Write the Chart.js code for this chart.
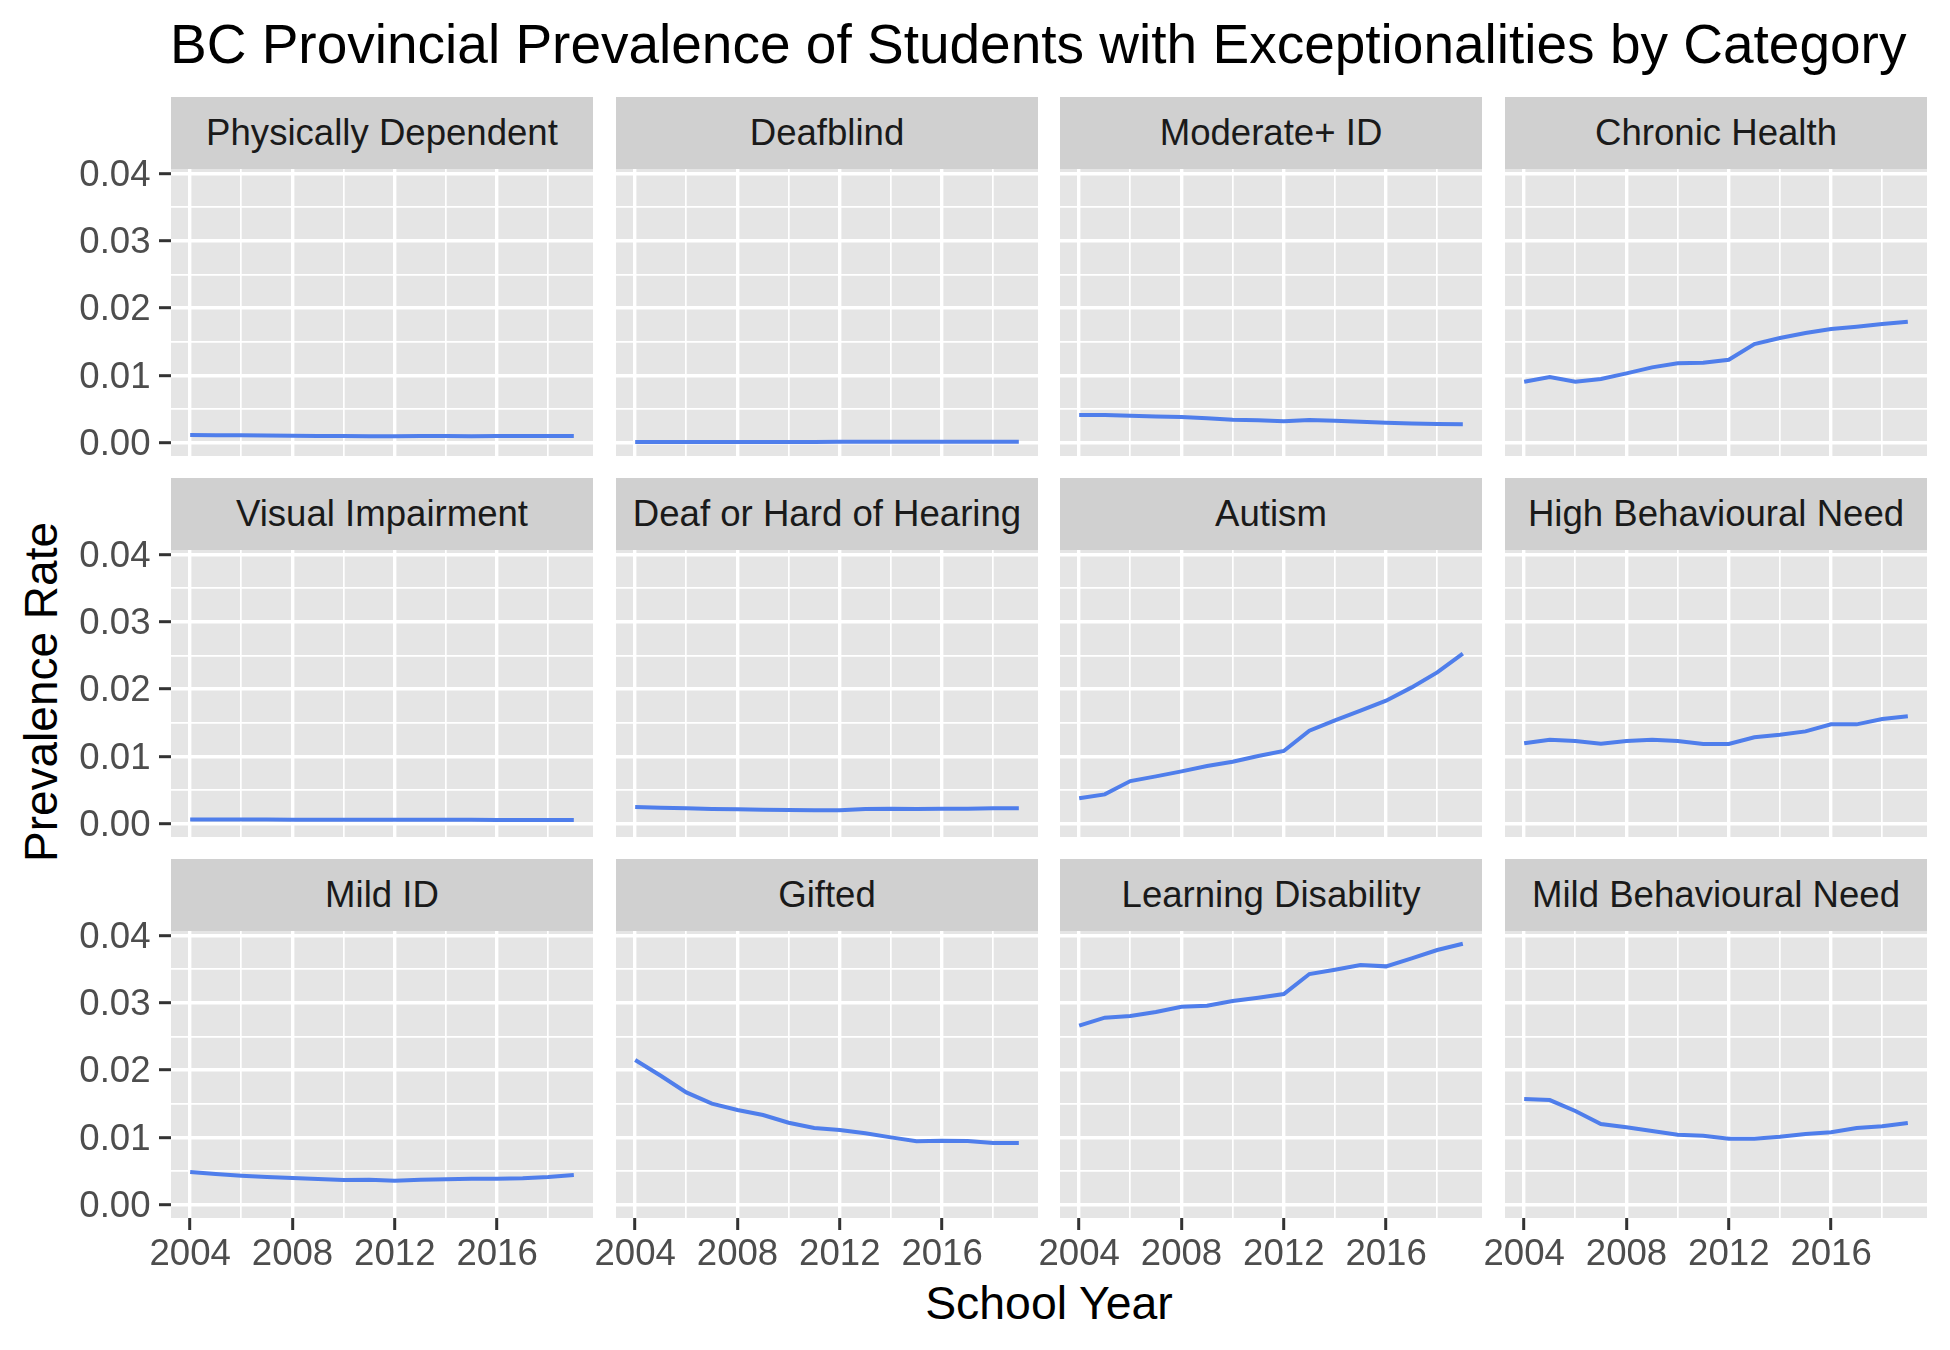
<!DOCTYPE html>
<html>
<head>
<meta charset="utf-8">
<title>BC Provincial Prevalence</title>
<script src="https://cdn.jsdelivr.net/npm/chart.js@4"></script>
<style>
  html, body { margin: 0; padding: 0; background: #fff; }
  body { width: 1950px; height: 1350px; position: relative; overflow: hidden; font-family: "Liberation Sans", Arial, sans-serif; }
  canvas { position: absolute; }
  .strip { position: absolute; background: #D0D0D0; color: #1A1A1A; font-size: 36.6px; text-align: center; }
  .txt { position: absolute; white-space: nowrap; color: #000; }
</style>
</head>
<body>
<div class="txt" id="title" style="left:170px;top:13px;font-size:55px;line-height:62px">BC Provincial Prevalence of Students with Exceptionalities by Category</div>
<div class="txt" id="xTitle" style="left:1049px;top:1277px;font-size:46.4px;line-height:52px;transform:translateX(-50%)">School Year</div>
<div class="txt" id="yTitle" style="left:41px;top:692px;font-size:46px;line-height:52px;transform:translate(-50%,-50%) rotate(-90deg)">Prevalence Rate</div>
<script>
var years = [2004,2005,2006,2007,2008,2009,2010,2011,2012,2013,2014,2015,2016,2017,2018,2019];
var xGrid = [2004,2006,2008,2010,2012,2014,2016,2018];
var xLabels = [2004,2008,2012,2016];
var yGrid = [0,0.005,0.01,0.015,0.02,0.025,0.03,0.035,0.04];
var yLabels = [0,0.01,0.02,0.03,0.04];

var categories = [
  "Physically Dependent","Deafblind","Moderate+ ID","Chronic Health",
  "Visual Impairment","Deaf or Hard of Hearing","Autism","High Behavioural Need",
  "Mild ID","Gifted","Learning Disability","Mild Behavioural Need"
];

var physicallyDependent = [.00114,.00112,.00110,.00108,.00102,.00100,.00098,.00094,.00094,.00100,.00100,.00097,.00099,.00099,.00100,.00099];
var deafblind = [.00010,.00010,.00010,.00011,.00012,.00012,.00012,.00012,.00013,.00014,.00014,.00014,.00014,.00014,.00014,.00013];
var moderateId = [.00411,.00411,.00401,.00391,.00382,.00362,.00342,.00332,.00317,.00337,.00327,.00312,.00297,.00287,.00278,.00273];
var chronicHealth = [.00907,.00976,.00907,.00947,.01031,.0112,.0118,.0119,.01234,.01467,.01556,.01631,.0169,.01725,.01765,.01799];
var visualImpairment = [.00064,.00064,.00064,.00063,.00060,.00059,.00059,.00058,.00058,.00058,.00058,.00058,.00056,.00055,.00055,.00054];
var deafHoH = [.00248,.00238,.00228,.00218,.00213,.00208,.00203,.00198,.00198,.00218,.00223,.00218,.00221,.00223,.00228,.00228];
var autism = [.00377,.00436,.00634,.00704,.00778,.00857,.00922,.01006,.01081,.01383,.01537,.0168,.01829,.02027,.0225,.02528];
var highBehaviour = [.01195,.01249,.01229,.0119,.01229,.01249,.01229,.01185,.01185,.01284,.01323,.01373,.01477,.01477,.01556,.01596];
var mildId = [.00486,.00456,.00431,.00411,.00397,.00382,.00367,.00372,.00357,.00372,.00377,.00387,.00387,.00392,.00411,.00441];
var gifted = [.02151,.01918,.0167,.01502,.01408,.01333,.01219,.0114,.0111,.01061,.01001,.00942,.00952,.00947,.00917,.00917];
var learningDisability = [.02662,.02781,.02805,.02865,.02944,.02959,.03029,.03078,.03133,.0343,.03494,.03564,.03544,.03663,.03787,.03881];
var mildBehaviour = [.01571,.01556,.01393,.012,.0115,.01095,.01041,.01026,.00981,.00981,.01011,.01051,.01076,.0114,.01165,.01214];

var seriesList = [
  physicallyDependent,deafblind,moderateId,chronicHealth,
  visualImpairment,deafHoH,autism,highBehaviour,
  mildId,gifted,learningDisability,mildBehaviour
];

var colLeft = [171,616,1060,1505];
var rowTop = [169,550,931];
var panelW = 422, panelH = 287, stripH = 72;

// grey panel behind the grid
var panelBg = {
  id: 'panelBg',
  beforeDraw: function(chart){
    var a = chart.chartArea;
    chart.ctx.save();
    chart.ctx.fillStyle = '#E5E5E5';
    chart.ctx.fillRect(a.left, a.top, a.right - a.left, a.bottom - a.top);
    chart.ctx.restore();
  }
};

function makeTicks(list){
  return list.map(function(v){ return {value: v}; });
}

categories.forEach(function(name, i){
  var col = i % 4, row = Math.floor(i / 4);
  var showY = col === 0, showX = row === 2;

  var strip = document.createElement('div');
  strip.className = 'strip';
  strip.textContent = name;
  strip.style.left = colLeft[col] + 'px';
  strip.style.top = (rowTop[row] - stripH) + 'px';
  strip.style.width = panelW + 'px';
  strip.style.height = stripH + 'px';
  strip.style.lineHeight = stripH + 'px';
  document.body.appendChild(strip);

  var mL = showY ? 110 : 50, mR = 10, mT = 20, mB = showX ? 70 : 20;
  var cv = document.createElement('canvas');
  cv.width = panelW + mL + mR;
  cv.height = panelH + mT + mB;
  cv.style.left = (colLeft[col] - mL) + 'px';
  cv.style.top = (rowTop[row] - mT) + 'px';
  cv.style.width = cv.width + 'px';
  cv.style.height = cv.height + 'px';
  document.body.appendChild(cv);

  new Chart(cv, {
    type: 'line',
    plugins: [panelBg],
    data: {
      datasets: [{
        data: years.map(function(y, k){ return {x: y, y: seriesList[i][k]}; }),
        borderColor: '#4F7EEB',
        borderWidth: 4,
        pointRadius: 0,
        tension: 0,
        fill: false
      }]
    },
    options: {
      responsive: false,
      animation: false,
      devicePixelRatio: 1,
      layout: { padding: { left: 0, right: mR, top: mT, bottom: 0 } },
      plugins: { legend: { display: false }, tooltip: { enabled: false }, title: { display: false } },
      scales: {
        x: {
          type: 'linear',
          min: 2003.25,
          max: 2019.75,
          border: { display: false },
          afterBuildTicks: function(s){ s.ticks = makeTicks(xGrid); },
          afterFit: function(s){
            s.height = mB;
            s.paddingLeft = s.paddingRight = 0;
          },
          grid: {
            color: '#FFFFFF',
            lineWidth: function(c){ return xLabels.indexOf(c.tick.value) >= 0 ? 3.4 : 1.7; },
            tickLength: 12,
            tickWidth: 3,
            tickColor: function(c){ return showX && xLabels.indexOf(c.tick.value) >= 0 ? '#333333' : 'rgba(0,0,0,0)'; }
          },
          ticks: {
            display: showX,
            autoSkip: false,
            maxRotation: 0,
            padding: 3,
            color: '#4D4D4D',
            font: { family: '"Liberation Sans"', size: 36.6 },
            callback: function(v){ return xLabels.indexOf(v) >= 0 ? String(v) : ''; }
          }
        },
        y: {
          type: 'linear',
          min: -0.00198,
          max: 0.0407,
          border: { display: false },
          afterBuildTicks: function(s){ s.ticks = makeTicks(yGrid); },
          afterFit: function(s){
            s.width = mL;
            s.paddingTop = s.paddingBottom = 0;
          },
          grid: {
            color: '#FFFFFF',
            lineWidth: function(c){ return yLabels.indexOf(c.tick.value) >= 0 ? 3.4 : 1.7; },
            tickLength: 12,
            tickWidth: 3,
            tickColor: function(c){ return showY && yLabels.indexOf(c.tick.value) >= 0 ? '#333333' : 'rgba(0,0,0,0)'; }
          },
          ticks: {
            display: showY,
            autoSkip: false,
            padding: 8.5,
            labelOffset: 2,
            color: '#4D4D4D',
            font: { family: '"Liberation Sans"', size: 36.6 },
            callback: function(v){ return yLabels.indexOf(v) >= 0 ? v.toFixed(2) : ''; }
          }
        }
      }
    }
  });
});
</script>
</body>
</html>
